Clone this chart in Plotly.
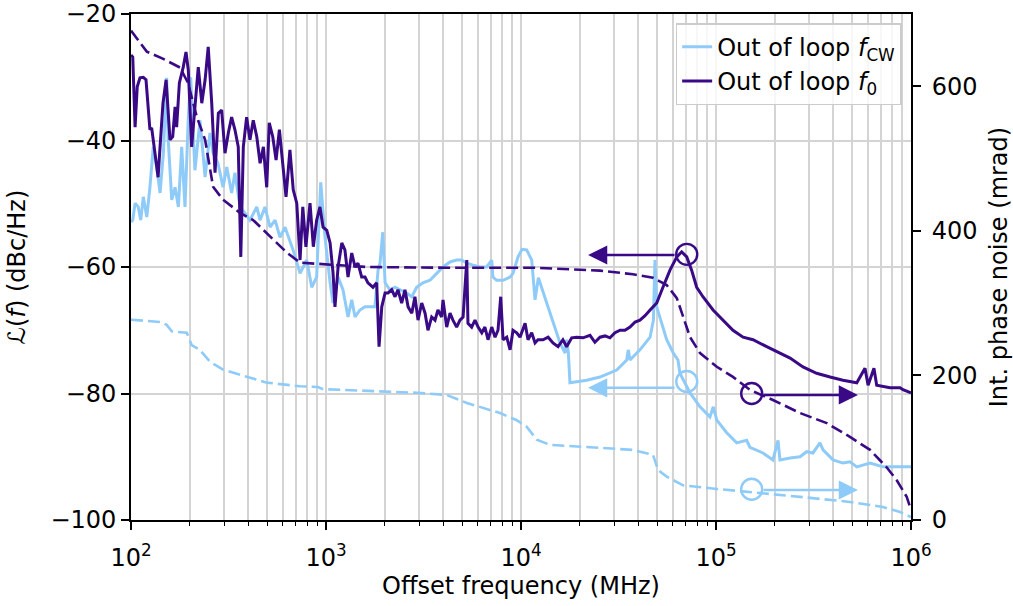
import numpy as np
import plotly.graph_objects as go

# ---------------- data (offset frequency given as log10 of MHz) ----------------
log10_f_f0 = [2.000, 2.009, 2.021, 2.032, 2.046, 2.063, 2.077, 2.097, 2.106, 2.123,
              2.139, 2.149, 2.164, 2.180, 2.190, 2.200, 2.214, 2.226, 2.234, 2.248,
              2.268, 2.282, 2.294, 2.311, 2.328, 2.345, 2.363, 2.380, 2.396, 2.414,
              2.431, 2.448, 2.465, 2.482, 2.499, 2.516, 2.533, 2.550, 2.563, 2.576,
              2.593, 2.610, 2.627, 2.645, 2.662, 2.679, 2.696, 2.709, 2.727, 2.744,
              2.761, 2.778, 2.795, 2.815, 2.832, 2.850, 2.867, 2.881, 2.897, 2.918,
              2.935, 2.952, 2.969, 2.985, 3.004, 3.021, 3.036, 3.046, 3.062, 3.081,
              3.097, 3.113, 3.132, 3.149, 3.164, 3.183, 3.200, 3.215, 3.241, 3.260,
              3.272, 3.286, 3.303, 3.318, 3.337, 3.354, 3.369, 3.388, 3.405, 3.421,
              3.440, 3.456, 3.472, 3.491, 3.508, 3.523, 3.542, 3.559, 3.574, 3.593,
              3.600, 3.619, 3.636, 3.651, 3.670, 3.687, 3.703, 3.722, 3.728, 3.747,
              3.764, 3.780, 3.799, 3.815, 3.831, 3.850, 3.867, 3.882, 3.896, 3.908,
              3.927, 3.944, 3.959, 3.978, 3.995, 4.021, 4.036, 4.055, 4.072, 4.087,
              4.113, 4.139, 4.164, 4.190, 4.215, 4.234, 4.260, 4.286, 4.318, 4.354,
              4.379, 4.405, 4.431, 4.456, 4.482, 4.508, 4.533, 4.559, 4.585, 4.610,
              4.636, 4.662, 4.696, 4.728, 4.764, 4.799, 4.824, 4.850, 4.875, 4.901,
              4.933, 4.985, 5.036, 5.087, 5.139, 5.190, 5.260, 5.311, 5.380, 5.446,
              5.516, 5.585, 5.651, 5.722, 5.764, 5.780, 5.810, 5.824, 5.892, 5.944,
              5.959, 6.000]
noise_f0 = [-26.5, -26.8, -37.9, -31.5, -30.1, -30.0, -30.4, -38.3, -38.0, -42.0,
            -45.8, -41.0, -34.1, -30.4, -34.7, -39.9, -39.4, -34.7, -37.9, -30.9,
            -28.4, -26.0, -28.9, -41.0, -34.7, -28.4, -34.1, -30.4, -25.2, -34.1,
            -45.1, -35.7, -35.2, -42.0, -38.8, -36.3, -38.3, -41.0, -58.4, -41.0,
            -36.3, -39.9, -36.8, -39.4, -43.6, -41.0, -47.4, -37.2, -39.4, -43.1,
            -38.3, -43.1, -48.9, -41.5, -47.8, -49.9, -58.9, -50.5, -56.8, -49.9,
            -56.8, -52.6, -50.5, -53.7, -54.2, -56.2, -60.9, -66.3, -60.0, -56.2,
            -57.3, -61.6, -57.8, -60.0, -59.4, -61.6, -61.6, -62.5, -63.2, -62.5,
            -72.6, -66.3, -64.1, -64.1, -63.6, -64.7, -63.6, -65.7, -63.6, -66.3,
            -67.3, -64.7, -68.4, -65.7, -67.3, -70.0, -67.9, -68.4, -66.8, -67.9,
            -65.2, -69.5, -67.3, -68.4, -69.5, -68.4, -67.9, -58.9, -68.9, -69.5,
            -68.4, -69.5, -70.4, -69.5, -71.5, -69.5, -71.1, -70.0, -64.7, -71.5,
            -71.1, -73.1, -70.0, -70.4, -71.1, -68.9, -71.5, -70.4, -72.0, -71.5,
            -71.5, -71.1, -72.0, -72.6, -71.5, -72.6, -71.2, -71.1, -71.2, -70.8,
            -71.9, -71.1, -70.9, -71.2, -70.4, -70.0, -70.0, -69.5, -68.7, -68.4,
            -67.7, -66.8, -65.7, -63.2, -60.5, -58.4, -57.6, -58.4, -60.5, -63.2,
            -64.7, -66.8, -68.4, -70.0, -71.1, -71.5, -72.6, -73.4, -74.4, -75.8,
            -76.8, -77.4, -77.9, -78.3, -76.0, -78.7, -76.0, -78.7, -79.1, -79.1,
            -79.4, -79.9]

log10_f_cw = [2.000, 2.009, 2.021, 2.037, 2.050, 2.063, 2.081, 2.097, 2.114, 2.132,
              2.149, 2.166, 2.183, 2.191, 2.209, 2.226, 2.243, 2.260, 2.277, 2.294,
              2.306, 2.328, 2.354, 2.380, 2.405, 2.421, 2.446, 2.472, 2.491, 2.516,
              2.533, 2.559, 2.585, 2.610, 2.645, 2.662, 2.687, 2.713, 2.739, 2.764,
              2.790, 2.815, 2.831, 2.867, 2.901, 2.927, 2.952, 2.973, 2.995, 3.021,
              3.036, 3.062, 3.087, 3.113, 3.132, 3.149, 3.174, 3.200, 3.226, 3.251,
              3.267, 3.277, 3.291, 3.303, 3.328, 3.354, 3.380, 3.414, 3.440, 3.465,
              3.497, 3.533, 3.568, 3.600, 3.636, 3.670, 3.696, 3.722, 3.754, 3.790,
              3.824, 3.850, 3.856, 3.875, 3.908, 3.944, 3.959, 3.985, 4.005, 4.029,
              4.055, 4.072, 4.089, 4.132, 4.164, 4.200, 4.226, 4.234, 4.243, 4.251,
              4.337, 4.405, 4.491, 4.542, 4.550, 4.559, 4.610, 4.662, 4.679, 4.687,
              4.696, 4.713, 4.747, 4.781, 4.805, 4.815, 4.867, 4.918, 4.969, 4.986,
              5.004, 5.055, 5.106, 5.157, 5.174, 5.241, 5.292, 5.318, 5.328, 5.380,
              5.431, 5.465, 5.497, 5.533, 5.549, 5.600, 5.651, 5.687, 5.722, 5.790,
              5.856, 6.000]
noise_cw = [-52.9, -52.6, -49.9, -50.5, -52.6, -48.9, -52.1, -47.4, -41.0, -44.2,
            -48.3, -42.0, -30.1, -39.9, -49.4, -47.4, -50.5, -41.0, -50.5, -36.3,
            -30.0, -44.7, -36.8, -45.8, -38.8, -42.0, -43.6, -47.4, -44.2, -48.3,
            -45.1, -50.5, -51.5, -52.6, -50.5, -52.6, -50.5, -53.7, -52.6, -55.3,
            -53.7, -55.7, -57.3, -61.0, -58.9, -63.2, -61.6, -46.6, -55.3, -62.5,
            -65.7, -61.6, -63.6, -67.9, -65.2, -67.9, -66.8, -66.3, -66.3, -66.3,
            -60.5, -59.4, -54.5, -62.5, -63.6, -63.2, -63.6, -64.1, -64.7, -63.2,
            -62.5, -62.1, -61.0, -60.0, -59.2, -58.9, -58.9, -59.4, -59.7, -60.0,
            -60.0, -58.9, -61.6, -62.1, -62.1, -61.6, -61.0, -58.4, -57.2, -57.3,
            -58.9, -65.2, -61.7, -65.7, -68.9, -72.0, -73.6, -71.5, -73.6, -78.3,
            -77.9, -77.4, -76.3, -74.7, -73.1, -74.7, -73.1, -71.1, -68.4, -58.9,
            -66.3, -68.1, -71.5, -73.6, -74.7, -76.8, -79.9, -82.1, -83.7, -82.1,
            -84.2, -86.2, -87.8, -87.4, -88.5, -89.4, -90.5, -87.4, -90.5, -90.2,
            -90.0, -89.2, -89.4, -87.8, -88.9, -90.5, -91.0, -90.8, -91.6, -91.0,
            -91.6, -91.6]

log10_f_int_f0 = [2.000, 2.081, 2.157, 2.251, 2.292, 2.337, 2.380, 2.405, 2.421, 2.472,
                  2.559, 2.626, 2.713, 2.799, 2.867, 3.036, 3.209, 3.619, 4.062, 4.405,
                  4.574, 4.677, 4.747, 4.799, 4.831, 4.867, 4.918, 5.004, 5.087, 5.174,
                  5.292, 5.431, 5.568, 5.687, 5.790, 5.875, 5.927, 5.978, 6.000]
int_noise_f0 = [677, 648, 639, 626, 605, 558, 526, 489, 461, 443,
                425, 415, 392, 370, 356, 353, 350, 349, 349, 345,
                340, 335, 325, 307, 281, 253, 231, 212, 198, 180,
                166, 148, 134, 115, 97, 73, 55, 32, 14]

log10_f_int_cw = [2.000, 2.149, 2.183, 2.209, 2.286, 2.311, 2.354, 2.405, 2.472, 2.593,
                  2.696, 2.867, 2.959, 2.985, 3.209, 3.465, 3.619, 3.722, 3.892, 3.978,
                  4.029, 4.081, 4.149, 4.318, 4.574, 4.677, 4.703, 4.747, 4.831, 5.004,
                  5.174, 5.431, 5.687, 5.856, 5.944, 6.000]
int_noise_cw = [277, 274, 270, 261, 259, 242, 235, 219, 208, 198,
                190, 185, 184, 181, 179, 176, 173, 162, 148, 138,
                129, 111, 104, 101, 97, 90, 69, 60, 48, 43,
                39, 32, 25, 18, 11, 4]

# circled points and arrow targets (log10 frequency, value)
circle_left_lf = 4.850          # circles on the phase-noise curves
circle_left_f0 = -58.0
circle_left_cw = -78.1
arrow_left_from_lf = 4.795
arrow_left_to_lf = 4.344
arrow_left_f0 = -58.1
arrow_left_cw = -79.1
circle_right_lf = 5.183         # circles on the integrated curves
circle_right_f0 = 175
circle_right_cw = 42.5
arrow_right_from_lf = 5.236
arrow_right_to_lf = 5.728
arrow_right_f0 = 173
arrow_right_cw = 41.5

x_tick_vals = [1e2, 1e3, 1e4, 1e5, 1e6]
x_tick_text = ["10<sup>2</sup>", "10<sup>3</sup>", "10<sup>4</sup>", "10<sup>5</sup>", "10<sup>6</sup>"]
x_minor_vals = [m * 10 ** d for d in range(2, 6) for m in range(2, 10)]
y_tick_vals = [-100, -80, -60, -40, -20]
y2_tick_vals = [0, 200, 400, 600]

LIGHT = "#8fcbf9"
DARK = "#3a0a86"
GRID = "#d4d4d4"
FONT = "DejaVu Sans"
FS = 24


def f(lf):
    return 10 ** np.asarray(lf, dtype=float)


fig = go.Figure()
fig.add_trace(go.Scatter(x=f(log10_f_cw), y=noise_cw, mode="lines",
                         line=dict(color=LIGHT, width=3),
                         name="Out of loop <i>f</i><sub>CW</sub>"))
fig.add_trace(go.Scatter(x=f(log10_f_f0), y=noise_f0, mode="lines",
                         line=dict(color=DARK, width=3),
                         name="Out of loop <i>f</i><sub>0</sub>"))
fig.add_trace(go.Scatter(x=f(log10_f_int_cw), y=int_noise_cw, mode="lines", yaxis="y2",
                         line=dict(color=LIGHT, width=2.6, dash="12px,5px"),
                         showlegend=False))
fig.add_trace(go.Scatter(x=f(log10_f_int_f0), y=int_noise_f0, mode="lines", yaxis="y2",
                         line=dict(color=DARK, width=2.6, dash="12px,5px"),
                         showlegend=False))

# circles
fig.add_trace(go.Scatter(x=f([circle_left_lf]), y=[circle_left_f0], mode="markers",
                         marker=dict(symbol="circle-open", size=21, color=DARK, line=dict(width=2.4)),
                         showlegend=False))
fig.add_trace(go.Scatter(x=f([circle_left_lf]), y=[circle_left_cw], mode="markers",
                         marker=dict(symbol="circle-open", size=21, color=LIGHT, line=dict(width=2.4)),
                         showlegend=False))
fig.add_trace(go.Scatter(x=f([circle_right_lf]), y=[circle_right_f0], mode="markers", yaxis="y2",
                         marker=dict(symbol="circle-open", size=21, color=DARK, line=dict(width=2.4)),
                         showlegend=False))
fig.add_trace(go.Scatter(x=f([circle_right_lf]), y=[circle_right_cw], mode="markers", yaxis="y2",
                         marker=dict(symbol="circle-open", size=21, color=LIGHT, line=dict(width=2.4)),
                         showlegend=False))

arrows = [
    (arrow_left_to_lf, arrow_left_f0, arrow_left_from_lf, "y", DARK),
    (arrow_left_to_lf, arrow_left_cw, arrow_left_from_lf, "y", LIGHT),
    (arrow_right_to_lf, arrow_right_f0, arrow_right_from_lf, "y2", DARK),
    (arrow_right_to_lf, arrow_right_cw, arrow_right_from_lf, "y2", LIGHT),
]
for tx, ty, fx, yr, col in arrows:
    fig.add_annotation(x=tx, y=ty, ax=fx, ay=ty, xref="x", yref=yr, axref="x", ayref=yr,
                       text="", showarrow=True, arrowhead=2, arrowsize=1.6, arrowwidth=2.4,
                       arrowcolor=col, standoff=0, startstandoff=0)

axis_common = dict(showline=True, linecolor="black", linewidth=1.8, ticks="outside",
                   ticklen=8, tickwidth=1.6, tickcolor="black", zeroline=False,
                   automargin=False,
                   tickfont=dict(family=FONT, size=FS, color="black"))

fig.update_layout(
    width=1013, height=606,
    margin=dict(l=131, r=102, t=14, b=86, autoexpand=False),
    paper_bgcolor="white", plot_bgcolor="white",
    font=dict(family=FONT, size=FS, color="black"),
    showlegend=True,
    legend=dict(x=0.988, y=0.982, xanchor="right", yanchor="top",
                bgcolor="rgba(255,255,255,0.8)", bordercolor="#cccccc", borderwidth=1.5,
                font=dict(family=FONT, size=FS, color="black"), itemwidth=30,
                tracegroupgap=0),
    xaxis=dict(type="log", range=[2, 6], tickvals=x_tick_vals, ticktext=x_tick_text,
               mirror=True, showgrid=True, gridcolor=GRID, gridwidth=1.6,
               ticklabelstandoff=7,
               minor=dict(tickvals=x_minor_vals, ticks="outside", ticklen=4.5, tickwidth=1.2,
                          tickcolor="black", showgrid=True, gridcolor=GRID, gridwidth=1.6),
               title=dict(text="Offset frequency (MHz)", standoff=4,
                          font=dict(family=FONT, size=FS, color="black")),
               **axis_common),
    yaxis=dict(range=[-100, -20], tickvals=y_tick_vals, mirror=True,
               showgrid=True, gridcolor=GRID, gridwidth=1.6,
               title=dict(text="ℒ(<i>f</i>) (dBc/Hz)", standoff=18,
                          font=dict(family=FONT, size=FS, color="black")),
               **axis_common),
    yaxis2=dict(range=[0, 700], tickvals=y2_tick_vals, overlaying="y", side="right",
                showgrid=False, ticklabelstandoff=6,
                title=dict(text="Int. phase noise (mrad)", standoff=16,
                           font=dict(family=FONT, size=FS, color="black")),
                **axis_common),
)

fig.write_html("out.html")
